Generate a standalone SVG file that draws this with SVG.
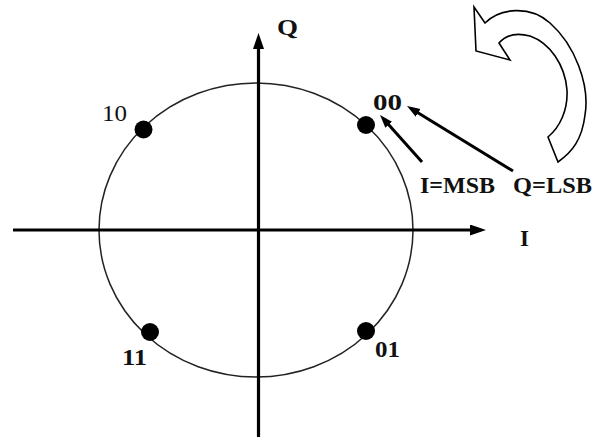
<svg xmlns="http://www.w3.org/2000/svg" width="595" height="437" viewBox="0 0 595 437">
  <style>
    .lbl { font-family: "Liberation Serif", "Times New Roman", serif; font-size: 23px; font-weight: bold; fill: #111; }
    .reg { font-weight: normal; }
    .axis { stroke: #000; stroke-width: 3.2; fill: none; }
    .ptr { stroke: #000; stroke-width: 3; fill: none; }
    .dot { fill: #000; }
  </style>
  <defs>
    <marker id="axHead" markerUnits="userSpaceOnUse" markerWidth="17" markerHeight="12" refX="8" refY="5.5" orient="auto">
      <path d="M0,0 L16,5.5 L0,11 Z" fill="#000"/>
    </marker>
    <marker id="ptrHead" markerUnits="userSpaceOnUse" markerWidth="14" markerHeight="10" refX="6" refY="4.5" orient="auto">
      <path d="M0,0 L13,4.5 L0,9 Z" fill="#000"/>
    </marker>
  </defs>

  <rect width="595" height="437" fill="#fff"/>

  <g id="circle">
    <ellipse cx="256" cy="230" rx="157" ry="147" fill="none" stroke="#222" stroke-width="1.5"/>
  </g>

  <g id="connectors">
    <line class="axis" x1="13" y1="230" x2="478" y2="230" marker-end="url(#axHead)"/>
    <line class="axis" x1="258.5" y1="437" x2="258.5" y2="41" marker-end="url(#axHead)"/>
    <line class="ptr" x1="422" y1="162" x2="384.7" y2="120.2" marker-end="url(#ptrHead)"/>
    <line class="ptr" x1="513" y1="171" x2="413" y2="109.7" marker-end="url(#ptrHead)"/>
  </g>

  <g id="axis-labels">
    <text class="lbl" x="277" y="35" textLength="21" lengthAdjust="spacingAndGlyphs">Q</text>
    <text class="lbl" x="520" y="246" textLength="9" lengthAdjust="spacingAndGlyphs">I</text>
  </g>

  <g id="point-00">
    <circle class="dot" cx="366" cy="125" r="9"/>
    <text class="lbl" x="373" y="110" textLength="29" lengthAdjust="spacingAndGlyphs">00</text>
  </g>
  <g id="point-10">
    <circle class="dot" cx="143.5" cy="129.5" r="9"/>
    <text class="lbl reg" x="102" y="121" textLength="25" lengthAdjust="spacingAndGlyphs">10</text>
  </g>
  <g id="point-11">
    <circle class="dot" cx="150" cy="332" r="9"/>
    <text class="lbl" x="122" y="365" textLength="25" lengthAdjust="spacingAndGlyphs">11</text>
  </g>
  <g id="point-01">
    <circle class="dot" cx="366" cy="331" r="9"/>
    <text class="lbl" x="375" y="357" textLength="25" lengthAdjust="spacingAndGlyphs">01</text>
  </g>

  <g id="bit-labels">
    <text class="lbl" x="420" y="193" textLength="75" lengthAdjust="spacingAndGlyphs">I=MSB</text>
    <text class="lbl" x="513" y="193" textLength="79" lengthAdjust="spacingAndGlyphs">Q=LSB</text>
  </g>

  <g id="rotation-arrow">
    <path d="M474,7 L485,23 C500,8 530,5 550,23 C575,45 590,85 585,115 C582,140 572,152 558,162 L548,137 C560,127 568,110 567,90 C565,65 550,43 530,36 C515,32 505,36 499,43 L510,60 L476,51 Z" fill="#fff" stroke="#000" stroke-width="1.6" stroke-linejoin="miter"/>
  </g>
</svg>
